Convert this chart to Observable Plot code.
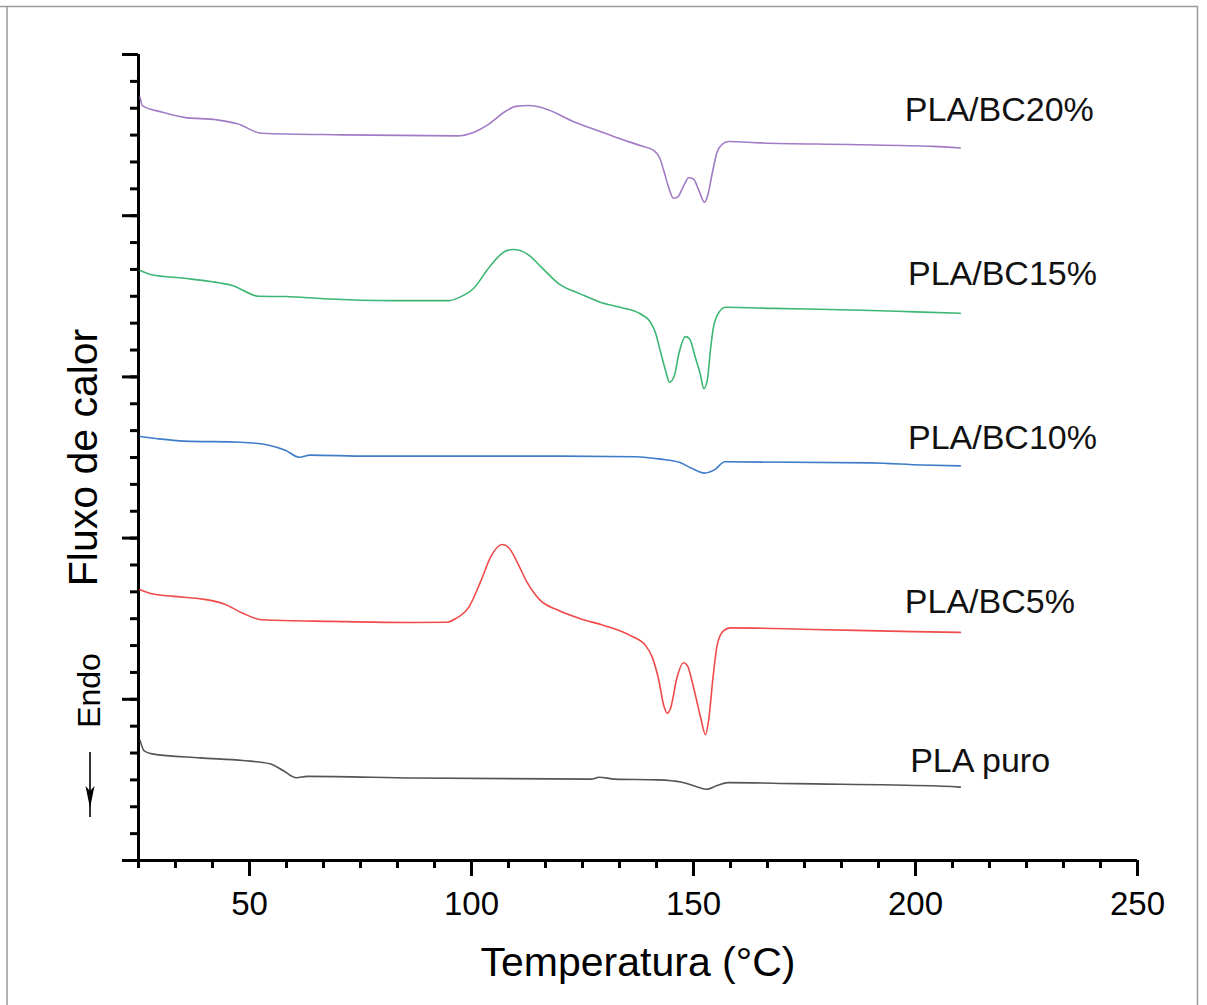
<!DOCTYPE html>
<html><head><meta charset="utf-8">
<script src="https://cdn.jsdelivr.net/npm/d3@7"></script>
<script src="https://cdn.jsdelivr.net/npm/@observablehq/plot@0.6"></script>
<style>
body{margin:0;background:#fff;}
#chart{position:relative;width:1207px;height:1005px;}
</style>
</head><body><div id="chart"></div>
<script>
// Temperature (°C) and heat flow (arbitrary units)
const T20 = [25.36, 25.86, 30.43, 35.27, 42.5, 47.3, 52.7, 71.0, 96.8, 100.4, 104.0, 107.6, 110.0, 113.0, 116.1, 123.3, 129.0, 133.5, 138.0, 141.0, 142.4, 143.3, 144.4, 145.5, 146.4, 147.8, 148.9, 150.0, 151.2, 152.5, 153.2, 154.2, 155.3, 156.4, 157.9, 165.0, 185.0, 204.0, 210.1];
const Y20 = [28.41, 28.10, 27.85, 27.66, 27.57, 27.42, 27.07, 27.01, 26.97, 27.10, 27.42, 27.88, 28.07, 28.10, 28.01, 27.48, 27.13, 26.86, 26.61, 26.43, 26.15, 25.68, 25.06, 24.65, 24.69, 25.12, 25.41, 25.37, 24.94, 24.50, 24.75, 25.56, 26.36, 26.65, 26.76, 26.71, 26.65, 26.58, 26.52];

const T15 = [25.36, 28.02, 35.27, 41.28, 46.12, 52.13, 58.2, 66.6, 82.3, 95.0, 97.4, 100.4, 104.0, 107.6, 109.4, 112.5, 116.1, 119.7, 124.5, 129.0, 133.5, 138.0, 140.3, 141.4, 142.5, 143.7, 144.6, 145.7, 146.7, 148.2, 149.1, 150.4, 151.6, 152.3, 153.1, 153.8, 154.5, 155.3, 157.2, 168.0, 188.0, 200.0, 210.1];
const Y15 = [21.96, 21.80, 21.67, 21.55, 21.40, 21.00, 20.99, 20.91, 20.84, 20.84, 20.97, 21.28, 22.08, 22.68, 22.74, 22.58, 22.02, 21.46, 21.09, 20.78, 20.59, 20.35, 20.04, 19.66, 18.98, 18.24, 17.80, 18.05, 18.86, 19.50, 19.42, 18.73, 18.05, 17.56, 17.87, 18.98, 19.85, 20.28, 20.59, 20.55, 20.48, 20.42, 20.37];

const T10 = [25.36, 29.2, 35.3, 47.9, 54.6, 58.2, 61.2, 63.6, 76.5, 120.0, 137.0, 142.6, 146.8, 149.8, 152.5, 154.7, 157.1, 190.0, 201.5, 210.1];
const Y10 = [15.78, 15.70, 15.61, 15.57, 15.45, 15.26, 15.01, 15.09, 15.05, 15.05, 15.03, 14.94, 14.82, 14.58, 14.42, 14.54, 14.84, 14.80, 14.72, 14.69];

const T5 = [25.36, 28.02, 35.27, 38.87, 44.3, 48.53, 52.74, 68.7, 86.5, 94.5, 96.4, 99.4, 102.0, 104.3, 105.8, 106.9, 108.4, 110.3, 112.5, 115.5, 119.3, 124.5, 129.8, 135.8, 139.2, 140.7, 142.2, 143.3, 144.1, 144.8, 146.3, 147.7, 148.6, 150.0, 151.6, 152.7, 153.4, 154.4, 155.4, 156.8, 158.3, 177.0, 199.5, 210.1];
const Y5 = [10.08, 9.93, 9.80, 9.74, 9.55, 9.20, 8.96, 8.90, 8.86, 8.87, 9.00, 9.43, 10.36, 11.29, 11.66, 11.76, 11.64, 11.10, 10.36, 9.68, 9.33, 9.00, 8.75, 8.37, 8.00, 7.57, 6.70, 5.77, 5.48, 5.65, 6.82, 7.36, 7.26, 6.45, 5.33, 4.69, 5.21, 6.82, 8.07, 8.56, 8.66, 8.60, 8.52, 8.49];

const T0 = [25.36, 26.22, 28.02, 38.87, 48.53, 54.57, 57.58, 60.58, 63.0, 87.0, 127.0, 128.7, 132.3, 142.0, 147.4, 151.0, 152.9, 155.3, 157.7, 173.0, 203.7, 210.1];
const Y0 = [4.47, 4.09, 3.97, 3.82, 3.72, 3.60, 3.35, 3.08, 3.13, 3.07, 3.03, 3.10, 3.03, 3.00, 2.91, 2.73, 2.65, 2.79, 2.90, 2.86, 2.78, 2.73];

const seriesNames = ["PLA/BC20%", "PLA/BC15%", "PLA/BC10%", "PLA/BC5%", "PLA puro"];
const seriesColors = ["#a27bc6", "#3db673", "#3f7cc9", "#f04a4a", "#555555"];
const seriesT = [T20, T15, T10, T5, T0];
const seriesY = [Y20, Y15, Y10, Y5, Y0];

// label anchors (data units)
const labelT = [197.6, 198.3, 198.3, 197.6, 198.8];
const labelY = [27.92, 21.81, 15.72, 9.60, 3.70];

const xMajor = [50, 100, 150, 200, 250];
const xMinor = d3.range(0, 28).map(k => 25 + k * 50 / 6).filter(v => v <= 250.01);
const yMajor = [0, 6, 12, 18, 24, 30];
const yMinor = d3.range(0, 31);

const xTitle = "Temperatura (°C)";
const yTitle = "Fluxo de calor";
const endoText = "Endo";

const lineMarks = seriesNames.map((name, i) =>
  Plot.line(seriesT[i].map((t, j) => ({T: t, Y: seriesY[i][j], series: name})), {
    x: "T", y: "Y", stroke: seriesColors[i], strokeWidth: 1.6, curve: "monotone-x"
  })
);

const labels = seriesNames.map((name, i) => ({name, T: labelT[i], Y: labelY[i]}));

const plot = Plot.plot({
  width: 1207,
  height: 1005,
  marginLeft: 138,
  marginRight: 70,
  marginTop: 54,
  marginBottom: 145,
  style: {fontFamily: "'Liberation Sans', Arial, sans-serif", background: "#fff", overflow: "visible"},
  x: {domain: [25, 250]},
  y: {domain: [0, 30]},
  marks: [
    Plot.axisY(yMinor, {tickSize: 8, strokeWidth: 3, tickFormat: () => "", label: null}),
    Plot.axisY(yMajor, {tickSize: 16, strokeWidth: 3, tickFormat: () => "", label: null}),
    Plot.axisX(xMinor, {tickSize: 8, strokeWidth: 3, tickFormat: () => "", label: null}),
    Plot.axisX(xMajor, {tickSize: 16, tickPadding: 15, strokeWidth: 3, fontSize: 33, label: null, tickFormat: d => String(d)}),
    Plot.ruleX([25], {strokeWidth: 3}),
    Plot.ruleY([0], {strokeWidth: 3}),
    ...lineMarks,
    Plot.text(labels, {x: "T", y: "Y", text: "name", textAnchor: "start", fontSize: 34, fill: "#111"}),
    Plot.text([xTitle], {frameAnchor: "bottom", dy: 115, fontSize: 41, fill: "#000"}),
    Plot.text([yTitle], {frameAnchor: "left", textAnchor: "middle", dx: -55, rotate: -90, fontSize: 41, fill: "#000"}),
    Plot.text([endoText], {frameAnchor: "left", textAnchor: "middle", dx: -48.5, dy: 233, rotate: -90, fontSize: 32, fill: "#000"})
  ]
});

document.getElementById("chart").appendChild(plot);

// decorations: "Endo" arrow and image frame
const svg = d3.select(plot);
const deco = svg.append("g");
deco.append("line").attr("x1", 90).attr("x2", 90).attr("y1", 752).attr("y2", 817)
  .attr("stroke", "#000").attr("stroke-width", 1.6);
deco.append("path").attr("d", "M90,808 L85.5,786 L90,791 L94.5,786 Z").attr("fill", "#000");
deco.append("line").attr("x1", 0).attr("x2", 1198).attr("y1", 6.5).attr("y2", 6.5)
  .attr("stroke", "#9a9a9a").attr("stroke-width", 1.5);
deco.append("line").attr("x1", 7).attr("x2", 7).attr("y1", 6.5).attr("y2", 1005)
  .attr("stroke", "#9a9a9a").attr("stroke-width", 1.5);
deco.append("line").attr("x1", 1197.5).attr("x2", 1197.5).attr("y1", 6.5).attr("y2", 1005)
  .attr("stroke", "#9a9a9a").attr("stroke-width", 1.5);
</script>
</body></html>
